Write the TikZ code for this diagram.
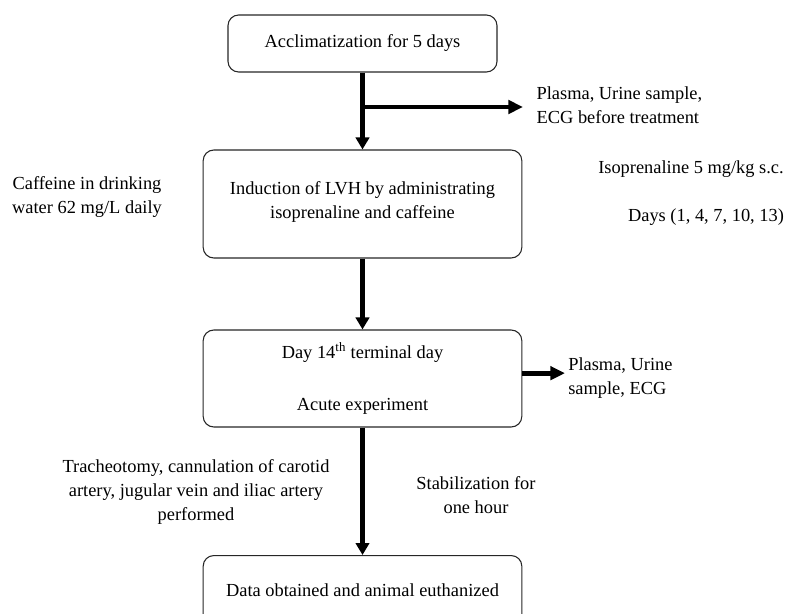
\documentclass[tikz,border=0pt]{standalone}
\usepackage{fontspec}
\setmainfont{Liberation Serif}
\usetikzlibrary{positioning,arrows.meta,calc}
\tikzset{
	flowbox/.style={
		draw=black!85,
		line width=0.8pt,
		rounded corners=8pt,
		align=center,
		minimum width=239pt,
		inner sep=4pt
	},
	flowNote/.style={align=center, inner sep=0pt},
	flowOut/.style={align=left, anchor=west, inner ysep=0pt, inner xsep=10pt},
	flowArrow/.style={-{Triangle[length=9pt,width=10pt]}, line width=3.6pt},
	flowSide/.style={-{Triangle[length=11pt,width=10pt]}, line width=3.2pt}
}

\begin{document}
\begin{tikzpicture}[x=0.75pt,y=-0.75pt,font=\fontsize{13.8}{18}\selectfont]
	\clip (0,0) rectangle (789,614);

	% Main steps
	\node[flowbox, minimum width=201.75pt, minimum height=42.75pt] (acclim) at (362.5,43.5)
	{Acclimatization for 5 days};
	\node[flowbox, minimum height=81pt] (induction) at (362.5,204)
	{Induction of LVH by administrating\\isoprenaline and caffeine\\[-12pt]};
	\node[flowbox, minimum height=72.75pt] (terminal) at (362.5,378.5)
	{Day 14\textsuperscript{th} terminal day\\[21pt]Acute experiment};
	\node[flowbox, anchor=north, minimum height=52.5pt] (euthanize) at (362.5,555)
	{Data obtained and animal euthanized};

	% Side notes
	\coordinate (split) at (364,107);
	\node[flowOut] (plasmaPre) at (523,105) {Plasma, Urine sample,\\ECG before treatment};
	\node[flowNote] (caffeine) at (87,197) {Caffeine in drinking\\water 62 mg/L daily};
	\node[flowNote] (isoDose) at (691,169) {Isoprenaline 5 mg/kg s.c.};
	\node[flowNote] (isoDays) at (706,217) {Days (1, 4, 7, 10, 13)};
	\node[flowOut, inner xsep=2.25pt] (plasmaEnd) at (565,378) {Plasma, Urine\\sample, ECG};
	\node[flowNote] (surgery) at (196,492)
	{Tracheotomy, cannulation of carotid\\artery, jugular vein and iliac artery\\performed};
	\node[flowNote] (stabilize) at (476,495) {Stabilization for\\one hour};

	% Flows
	\draw[flowArrow] (acclim) -- (induction);
	\draw[flowSide] (split) -- (split -| plasmaPre.west);
	\draw[flowArrow] (induction) -- (terminal);
	\draw[flowSide, line width=3.6pt] ([yshift=4pt]terminal.east) -- ([yshift=4pt]terminal.east -| plasmaEnd.west);
	\draw[flowArrow] (terminal) -- (euthanize);

\end{tikzpicture}
\end{document}
